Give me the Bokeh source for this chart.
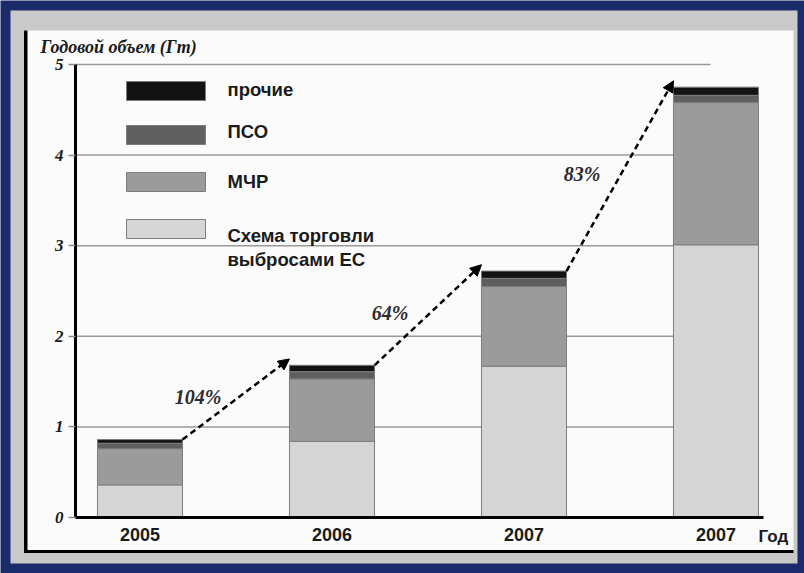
from bokeh.plotting import figure
from bokeh.models import (ColumnDataSource, FixedTicker, Label, LabelSet, Arrow,
                          NormalHead, Range1d)
from bokeh.core.properties import value
from bokeh.embed import file_html
from bokeh.resources import INLINE

# ---------------- data ----------------
years = ["2005", "2006", "2007", "2007"]
x_pos = [1, 2, 3, 4]
ets = [0.36, 0.84, 1.67, 3.01]      # Схема торговли выбросами ЕС
cdm = [0.40, 0.69, 0.88, 1.57]      # МЧР
pso = [0.06, 0.08, 0.09, 0.08]      # ПСО
other = [0.04, 0.07, 0.08, 0.09]    # прочие
growth = ["104%", "64%", "83%"]
series_names = ["Схема торговли\nвыбросами ЕС", "МЧР", "ПСО", "прочие"]
y_ticks = [0, 1, 2, 3, 4, 5]
y_title = "Годовой объем (Гт)"
x_title = "Год"

# ---------------- layout / style ----------------
W, H = 804, 573
PX_X = 192.0            # pixels per x unit
PX_Y = 90.6             # pixels per y unit
X0 = x_pos[0] - 139.5 / PX_X
X1 = X0 + W / PX_X
Y1 = 517 / PX_Y
Y0 = Y1 - H / PX_Y
BAR_W = 0.443
colors = ["#d5d5d5", "#9b9b9b", "#5f5f5f", "#121212"]
BLUE, GRAY = "#1b2a6b", "#c9c9c9"


def dx(px):
    return X0 + px / PX_X


def dy(py):
    return Y1 - py / PX_Y


p = figure(width=W, height=H, x_range=Range1d(X0, X1), y_range=Range1d(Y0, Y1),
           output_backend="svg", toolbar_location=None, title=None,
           min_border=0, border_fill_color=BLUE, background_fill_color=BLUE,
           outline_line_color=None)


def rect(l, r, t, b, color):
    p.quad(left=[dx(l)], right=[dx(r)], top=[dy(t)], bottom=[dy(b)],
           fill_color=color, line_color=None)


# panels
rect(10, 797, 10, 563, GRAY)
rect(25, 793, 30, 552, "#fbfbfb")
rect(23.5, 27, 30, 552, "black")
rect(23.5, 793, 549.5, 552.5, "black")

# grid lines
p.segment(x0=[dx(75)] * (len(y_ticks) - 1), x1=[dx(710)] * (len(y_ticks) - 1),
          y0=y_ticks[1:], y1=y_ticks[1:], line_color="#9a9a9a", line_width=1.5)

# bars
src = ColumnDataSource(dict(x=x_pos, ets=ets, cdm=cdm, pso=pso, other=other))
p.vbar_stack(["ets", "cdm", "pso", "other"], x="x", width=BAR_W, source=src,
             fill_color=colors, line_color="#7d7d7d", line_width=1)

# arrows between bar tops
totals = [a + b + c + d for a, b, c, d in zip(ets, cdm, pso, other)]
n = len(growth)
xs = [x_pos[i] + BAR_W / 2 for i in range(n)]
ys = [totals[i] for i in range(n)]
xe = [x_pos[i + 1] - BAR_W / 2 for i in range(n)]
ye = [totals[i + 1] + 0.07 for i in range(n)]
asrc = ColumnDataSource(dict(xs=xs, ys=ys, xe=xe, ye=ye,
                             xm=[(a + b) / 2 for a, b in zip(xs, xe)],
                             ym=[(a + b) / 2 for a, b in zip(ys, ye)],
                             t=growth))
p.add_layout(Arrow(end=NormalHead(size=11, fill_color="black", line_color="black", line_width=1),
                   x_start="xs", y_start="ys", x_end="xe", y_end="ye", source=asrc,
                   line_color="black", line_width=2.5, line_dash="6 4"))
p.add_layout(LabelSet(x="xm", y="ym", text="t", source=asrc, x_offset=-38, y_offset=2,
                      text_font=value("Liberation Serif"), text_font_style="bold italic",
                      text_font_size="20px", text_color="#2b2b2b",
                      text_align="center", text_baseline="middle"))

# legend (custom)
sw_top = [81, 125, 172, 219]
leg_colors = colors[::-1]
leg_names = series_names[::-1]
p.quad(left=[dx(126)] * 4, right=[dx(205)] * 4,
       top=[dy(t) for t in sw_top], bottom=[dy(t + 19) for t in sw_top],
       fill_color=leg_colors, line_color="#7d7d7d", line_width=1)
label_y = [89, 130.5, 180.5, 235]
for name, ly in zip(leg_names, label_y):
    for k, line in enumerate(name.split("\n")):
        p.add_layout(Label(x=dx(227), y=dy(ly + 24 * k), text=line,
                           text_font="Liberation Sans", text_font_style="bold",
                           text_font_size="18.5px", text_color="#1a1a1a",
                           text_align="left", text_baseline="middle"))

# titles
p.add_layout(Label(x=dx(40), y=dy(46), text=y_title, text_font="Liberation Serif",
                   text_font_style="bold italic", text_font_size="18px",
                   text_color="#1a1a1a", text_align="left", text_baseline="middle"))
p.add_layout(Label(x=dx(758), y=dy(536), text=x_title, text_font="Liberation Sans",
                   text_font_style="bold", text_font_size="17px",
                   text_color="#1a1a1a", text_align="left", text_baseline="middle"))

# axes (fixed inside the canvas)
p.xaxis.fixed_location = 0
p.xaxis.bounds = (dx(75), dx(763))
p.xaxis.ticker = FixedTicker(ticks=x_pos)
p.xaxis.major_label_overrides = {x: y for x, y in zip(x_pos, years)}
p.xaxis.minor_tick_line_color = None
p.xaxis.major_tick_out = 0
p.xaxis.major_tick_in = 0
p.xaxis.axis_line_width = 3
p.xaxis.axis_line_color = "black"
p.xaxis.major_label_standoff = 10
p.xaxis.major_label_text_font = "Liberation Sans"
p.xaxis.major_label_text_font_style = "bold"
p.xaxis.major_label_text_font_size = "18px"
p.xaxis.major_label_text_color = "#1a1a1a"

p.yaxis.fixed_location = dx(75)
p.yaxis.bounds = (y_ticks[0], y_ticks[-1])
p.yaxis.ticker = FixedTicker(ticks=y_ticks)
p.yaxis.minor_tick_line_color = None
p.yaxis.major_tick_out = 7
p.yaxis.major_tick_in = 0
p.yaxis.major_tick_line_color = "#8a8a8a"
p.yaxis.major_tick_line_width = 1.5
p.yaxis.axis_line_width = 3
p.yaxis.axis_line_color = "black"
p.yaxis.major_label_standoff = 5
p.yaxis.major_label_text_font = "Liberation Serif"
p.yaxis.major_label_text_font_style = "bold italic"
p.yaxis.major_label_text_font_size = "17px"
p.yaxis.major_label_text_color = "#1a1a1a"

p.xgrid.visible = False
p.ygrid.visible = False

open("out.html", "w").write(file_html(p, INLINE))
